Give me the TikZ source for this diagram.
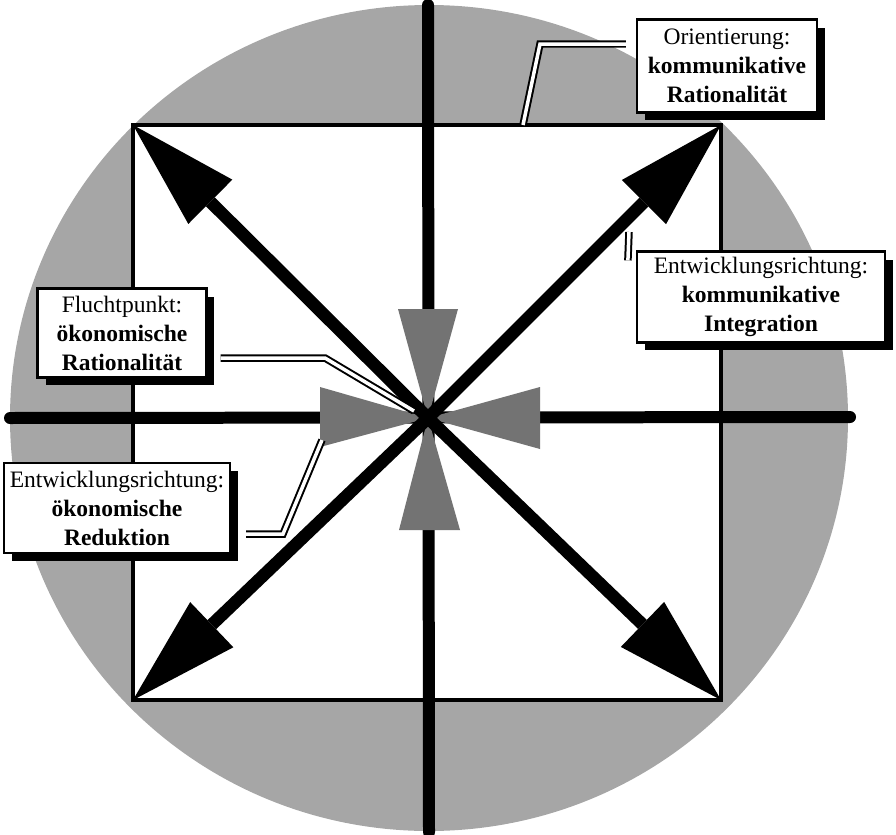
\documentclass[tikz,border=0pt]{standalone}
\usepackage{fontspec}
\setmainfont{Liberation Serif}
\usetikzlibrary{arrows.meta,shadows}

\begin{document}
\begin{tikzpicture}[x=0.02cm,y=-0.02cm,
  axis/.style={line width=0.24cm,line cap=round},
  diag/.style={line width=0.25cm,-{Triangle[length=2.18cm,width=1.25cm,line width=0pt]}},
  wedge/.style={fill=black!55},
  link/.style={double,double distance=0.07cm,line width=0.04cm},
  infobox/.style={draw,line width=0.045cm,fill=white,align=center,inner sep=1pt,
    font=\fontsize{13.4}{16.5}\selectfont,
    drop shadow={fill=black,opacity=1,shadow xshift=0.16cm,shadow yshift=-0.16cm}}]
 \useasboundingbox (0,0) rectangle (896,835);
 % circle and square
 \fill[black!35] (429,418) ellipse [x radius=419,y radius=413];
 \coordinate (nw) at (133,125); \coordinate (ne) at (721,125);
 \coordinate (sw) at (133,700); \coordinate (se) at (721,700);
 \draw[line width=0.08cm,fill=white] (nw) rectangle (se);
 % axes
 \coordinate (c) at (428,418);
 \coordinate (top) at (428,5);  \coordinate (bot) at (429,832);
 \coordinate (lft) at (10,418); \coordinate (rgt) at (850,417);
 \draw[axis] (top) -- (bot);
 \draw[axis] (lft) -- (rgt);
 % wedges
 \fill[wedge] (398,309) -- (458,309) -- (c) -- cycle;
 \fill[wedge] (399,530) -- (460,530) -- (c) -- cycle;
 \fill[wedge] (320,387) -- (320,447) -- (c) -- cycle;
 \fill[wedge] (540,387) -- (540,449) -- (c) -- cycle;
 % diagonals
 \foreach \k in {nw,ne,sw,se} \draw[diag] (c) -- (\k);
 % boxes
 \node[infobox,minimum width=3.6cm,minimum height=1.86cm] (ori) at (727,66)
   {Orientierung:\\ \textbf{kommunikative}\\ \textbf{Rationalität}};
 \node[infobox,minimum width=4.96cm,minimum height=1.82cm] (integ) at (761,297)
   {Entwicklungsrichtung:\\ \textbf{kommunikative}\\ \textbf{Integration}};
 \node[infobox,minimum width=3.38cm,minimum height=1.78cm] (flucht) at (122,333)
   {Fluchtpunkt:\\ \textbf{ökonomische}\\ \textbf{Rationalität}};
 \node[infobox,minimum width=4.52cm,minimum height=1.8cm] (redu) at (117,508)
   {Entwicklungsrichtung:\\ \textbf{ökonomische}\\ \textbf{Reduktion}};
 % links
 \coordinate (e1) at (523,125);
 \coordinate (e2) at (629,232);
 \coordinate (e3) at (414,411);
 \coordinate (e4) at (322,440);
 \draw[link] (ori.west) ++(-10,-22) -- (540,44) -- (e1);
 \draw[link] (integ.north west) ++(-8,10) -- (e2);
 \draw[link] (flucht.east) ++(13,25) -- (325,358) -- (e3);
 \draw[link] (redu.east) ++(15,26) -- (283,534) -- (e4);
\end{tikzpicture}
\end{document}
